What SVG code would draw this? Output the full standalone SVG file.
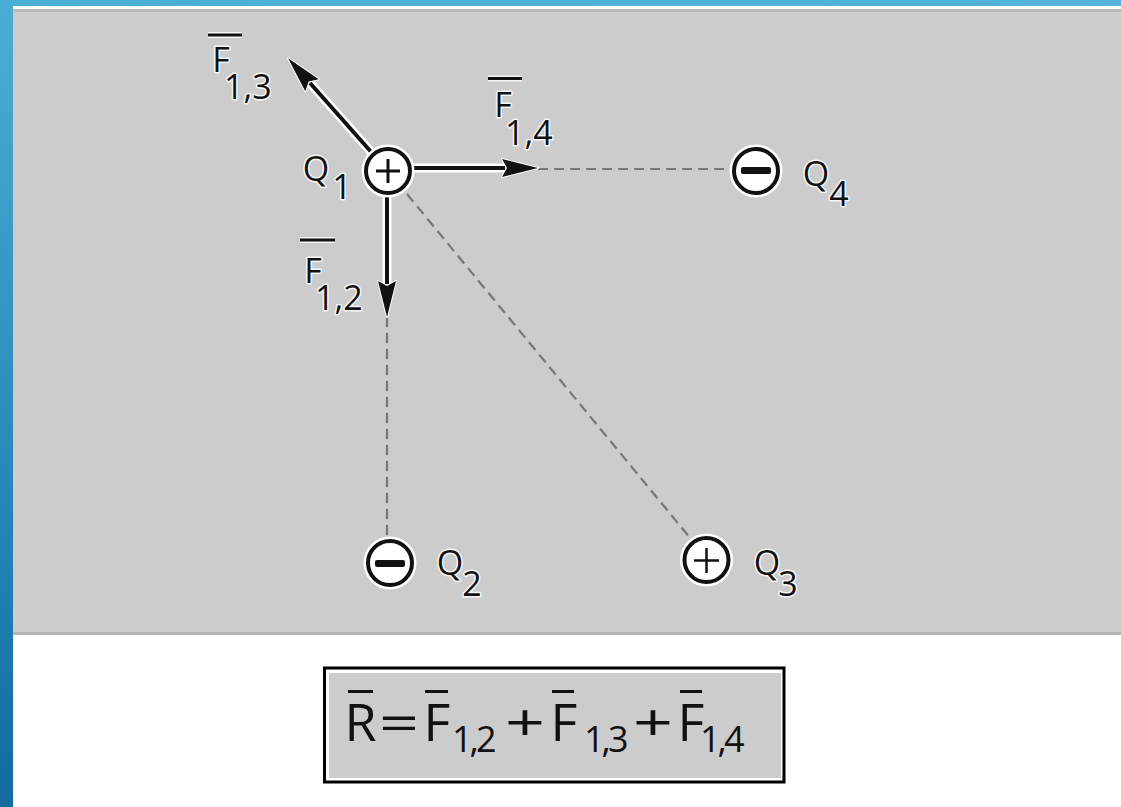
<svg xmlns="http://www.w3.org/2000/svg" width="1121" height="807" viewBox="0 0 1121 807">
<defs>
<linearGradient id="sideG" x1="0" y1="0" x2="0" y2="1">
<stop offset="0" stop-color="#4aafd7"/>
<stop offset="0.7" stop-color="#1f82b3"/>
<stop offset="1" stop-color="#146a9c"/>
</linearGradient>
<linearGradient id="topG" x1="0" y1="0" x2="1" y2="0">
<stop offset="0" stop-color="#4aafd7"/>
<stop offset="1" stop-color="#52b4dc"/>
</linearGradient>
<marker id="ah" markerUnits="userSpaceOnUse" markerWidth="44" markerHeight="26" viewBox="-2 -13 44 26" refX="3" refY="0" orient="auto" overflow="visible">
<path d="M36,0 L0,-9 L5,0 L0,9 Z" fill="#111" stroke="#fff" stroke-width="2" paint-order="stroke" stroke-linejoin="round"/>
</marker>
<style>
.lbl{font-family:"Open Sans","Noto Sans",sans-serif;font-size:34px;fill:#111;stroke:#f6f6f6;stroke-width:3;paint-order:stroke;stroke-linejoin:round}
.ctr{text-anchor:middle}
.bar{stroke:#111;stroke-width:3}
.barHalo{stroke:#f6f6f6;stroke-width:6}
.dash{stroke:#777;stroke-width:2.2;stroke-dasharray:10 6;fill:none}
.halo{stroke:#fff;stroke-width:9;fill:none}
.force{stroke:#111;stroke-width:4;fill:none;marker-end:url(#ah)}
.ringHalo{fill:none;stroke:#fff;stroke-width:9}
.ring{fill:#fff;stroke:#111;stroke-width:4}
.sign{stroke:#111;stroke-width:3;fill:none}
.fx{font-family:"Open Sans","Noto Sans",sans-serif;fill:#111}
.fm{font-size:52px}
.fs{font-size:36px;letter-spacing:-3px}
</style>
</defs>

<!-- frame / background -->
<rect x="0" y="0" width="1121" height="807" fill="#ffffff"/>
<rect x="0" y="0" width="1121" height="6" fill="url(#topG)"/>
<rect x="13" y="9" width="1108" height="3" fill="#bababa"/>
<rect x="13" y="12" width="1108" height="620" fill="#cccccc"/>
<rect x="13" y="632" width="1108" height="3" fill="#b5b5b5"/>
<rect x="0" y="0" width="13" height="807" fill="url(#sideG)"/>

<g id="connectors">
<line class="dash" x1="538" y1="169" x2="734" y2="169"/>
<line class="dash" x1="387" y1="317" x2="387" y2="541"/>
<line class="dash" x1="407" y1="194" x2="691" y2="539"/>
<line class="halo" x1="388" y1="168" x2="505" y2="168"/>
<line class="halo" x1="387" y1="171" x2="387" y2="284"/>
<line class="halo" x1="388" y1="171" x2="310" y2="83"/>
<line class="force" x1="388" y1="168" x2="505" y2="168"/>
<line class="force" x1="387" y1="171" x2="387" y2="284"/>
<line class="force" x1="388" y1="171" x2="310" y2="83"/>
</g>

<g id="label-f13">
<line class="barHalo" x1="208" y1="35" x2="242" y2="35"/>
<line class="bar" x1="208" y1="35" x2="242" y2="35"/>
<text class="lbl ctr" x="221" y="72">F</text>
<text class="lbl" x="224" y="99">1,3</text>
</g>
<g id="label-f14">
<line class="barHalo" x1="488" y1="78.5" x2="522" y2="78.5"/>
<line class="bar" x1="488" y1="78.5" x2="522" y2="78.5"/>
<text class="lbl ctr" x="503" y="117">F</text>
<text class="lbl" x="505" y="145">1,4</text>
</g>
<g id="label-f12">
<line class="barHalo" x1="300" y1="240" x2="335" y2="240"/>
<line class="bar" x1="300" y1="240" x2="335" y2="240"/>
<text class="lbl ctr" x="313" y="283">F</text>
<text class="lbl" x="315" y="310">1,2</text>
</g>

<g id="q1">
<circle class="ringHalo" cx="388" cy="171" r="22"/>
<circle class="ring" cx="388" cy="171" r="22"/>
<path class="sign" d="M376,171 H400 M388,159 V183"/>
<text class="lbl ctr" x="316" y="181">Q</text>
<text class="lbl ctr" x="342" y="199">1</text>
</g>
<g id="q2">
<circle class="ringHalo" cx="390" cy="563" r="22"/>
<circle class="ring" cx="390" cy="563" r="22"/>
<rect x="375" y="560" width="30" height="7" rx="2" fill="#111"/>
<text class="lbl ctr" x="450" y="575">Q</text>
<text class="lbl ctr" x="472" y="596">2</text>
</g>
<g id="q3">
<circle class="ringHalo" cx="706.5" cy="560" r="22"/>
<circle class="ring" cx="706.5" cy="560" r="22"/>
<path class="sign" style="stroke-width:2.5" d="M694,560.5 H719 M706.5,548 V573"/>
<text class="lbl ctr" x="767" y="575">Q</text>
<text class="lbl ctr" x="788" y="596">3</text>
</g>
<g id="q4">
<circle class="ringHalo" cx="756" cy="171" r="22"/>
<circle class="ring" cx="756" cy="171" r="22"/>
<rect x="741" y="167" width="30" height="7" rx="2" fill="#111"/>
<text class="lbl ctr" x="816" y="186">Q</text>
<text class="lbl ctr" x="839" y="206">4</text>
</g>

<g id="formula">
<rect x="324.5" y="668" width="459.5" height="114" fill="#ffffff" stroke="#000" stroke-width="3"/>
<rect x="329" y="673" width="452" height="105" fill="#cccccc"/>
<line class="bar" x1="348" y1="691.5" x2="373" y2="691.5"/>
<line class="bar" x1="425" y1="691.5" x2="448" y2="691.5"/>
<line class="bar" x1="552" y1="691.5" x2="574" y2="691.5"/>
<line class="bar" x1="680" y1="691.5" x2="702" y2="691.5"/>
<text class="fx fm" x="360.5" y="741" text-anchor="middle">R</text>
<text class="fx fm" x="379" y="741" textLength="40" lengthAdjust="spacingAndGlyphs">=</text>
<text class="fx fm" x="437" y="741" text-anchor="middle">F</text>
<text class="fx fs" x="452" y="752">1,2</text>
<text class="fx fm" x="505" y="741" textLength="40" lengthAdjust="spacingAndGlyphs">+</text>
<text class="fx fm" x="564" y="741" text-anchor="middle">F</text>
<text class="fx fs" x="584" y="752">1,3</text>
<text class="fx fm" x="633" y="741" textLength="40" lengthAdjust="spacingAndGlyphs">+</text>
<text class="fx fm" x="691" y="741" text-anchor="middle">F</text>
<text class="fx fs" x="700" y="752" letter-spacing="1">1,4</text>
</g>
</svg>
